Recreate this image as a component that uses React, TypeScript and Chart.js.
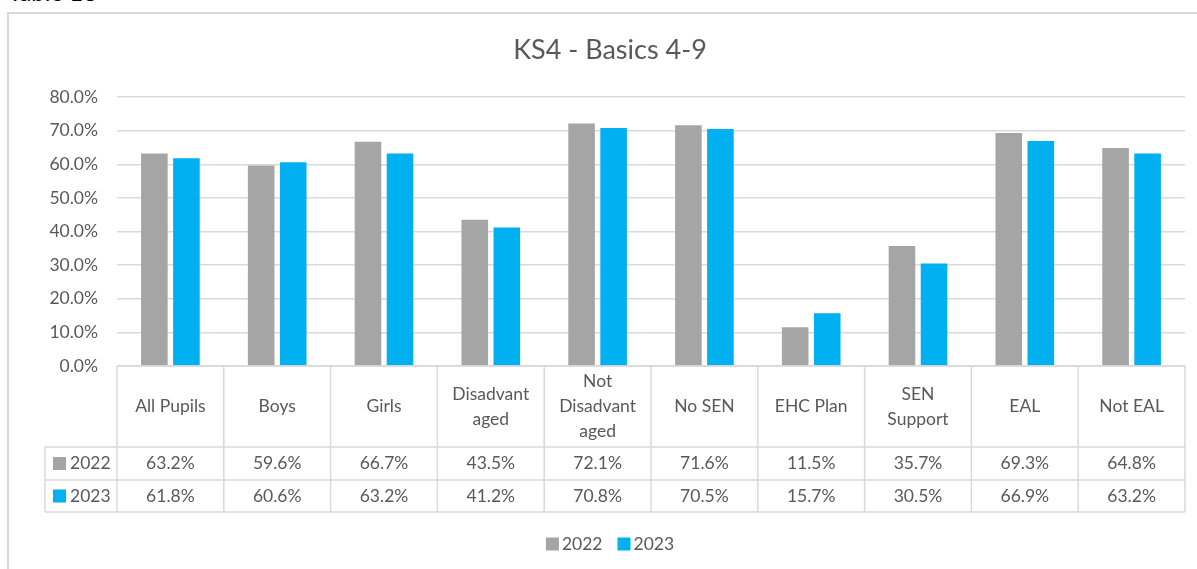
import { useEffect, useRef } from 'react';
import { Chart, registerables } from 'chart.js';

Chart.register(...registerables);

const chartTitle = 'KS4 - Basics 4-9';
const categoryLabels: string[][] = [
  ['All Pupils'],
  ['Boys'],
  ['Girls'],
  ['Disadvant', 'aged'],
  ['Not', 'Disadvant', 'aged'],
  ['No SEN'],
  ['EHC Plan'],
  ['SEN', 'Support'],
  ['EAL'],
  ['Not EAL'],
];
const seriesNames = ['2022', '2023'];
const series2022 = [63.2, 59.6, 66.7, 43.5, 72.1, 71.6, 11.5, 35.7, 69.3, 64.8];
const series2023 = [61.8, 60.6, 63.2, 41.2, 70.8, 70.5, 15.7, 30.5, 66.9, 63.2];
const yMin = 0;
const yMax = 80;
const yStep = 10;

const FONT = 'Lato, Carlito, Calibri, sans-serif';
const TEXT = '#595959';
const LINE = '#D9D9D9';
const COLORS = ['#A5A5A5', '#00B0F0'];
const TABLE_FONT_SIZE = 17.5;

const tablePlugin = {
  id: 'dataTable',
  afterDraw(chart: any) {
    const { ctx, chartArea, scales } = chart;
    const xs = scales.x;
    const n = chart.data.labels.length;
    const left = chartArea.left;
    const right = chartArea.right;
    const colW = (right - left) / n;
    const top = chartArea.bottom;
    const catBottom = top + 81;
    const r1 = catBottom + 33;
    const r2 = r1 + 32;
    const keyLeft = left - 72;

    ctx.save();
    ctx.strokeStyle = LINE;
    ctx.lineWidth = 1.5;
    ctx.beginPath();
    ctx.moveTo(left, top);
    ctx.lineTo(right, top);
    ctx.moveTo(keyLeft, catBottom);
    ctx.lineTo(right, catBottom);
    ctx.moveTo(keyLeft, r1);
    ctx.lineTo(right, r1);
    ctx.moveTo(keyLeft, r2);
    ctx.lineTo(right, r2);
    for (let i = 0; i <= n; i++) {
      const xx = left + i * colW;
      ctx.moveTo(xx, top);
      ctx.lineTo(xx, r2);
    }
    ctx.moveTo(keyLeft, catBottom);
    ctx.lineTo(keyLeft, r2);
    ctx.stroke();

    ctx.font = `${TABLE_FONT_SIZE}px ${FONT}`;
    ctx.textBaseline = 'middle';
    ctx.fillStyle = TEXT;
    ctx.textAlign = 'center';
    const labels = chart.data.labels as string[][];
    labels.forEach((lines, i) => {
      const cx = xs.getPixelForValue(i);
      const cy = (top + catBottom) / 2;
      const lh = 25;
      lines.forEach((line, j) => {
        ctx.fillText(line, cx, cy + (j - (lines.length - 1) / 2) * lh);
      });
    });

    const rows = [
      [catBottom, r1],
      [r1, r2],
    ];
    chart.data.datasets.forEach((ds: any, k: number) => {
      const cy = (rows[k][0] + rows[k][1]) / 2;
      ctx.fillStyle = TEXT;
      ctx.textAlign = 'center';
      ds.data.forEach((v: number, i: number) => {
        ctx.fillText(v.toFixed(1) + '%', xs.getPixelForValue(i), cy);
      });
      ctx.fillStyle = ds.backgroundColor;
      ctx.fillRect(keyLeft + 8, cy - 6.5, 13, 13);
      ctx.fillStyle = TEXT;
      ctx.textAlign = 'left';
      ctx.fillText(ds.label, keyLeft + 25, cy);
    });

    // legend
    const box = 13;
    const gap = 3;
    const spacing = 15;
    const items = chart.data.datasets.map((ds: any) => ({
      label: ds.label,
      color: ds.backgroundColor,
      w: box + gap + ctx.measureText(ds.label).width,
    }));
    const total = items.reduce((s: number, it: any) => s + it.w, 0) + spacing * (items.length - 1);
    let lx = chart.width / 2 - total / 2;
    const ly = 544;
    items.forEach((it: any) => {
      ctx.fillStyle = it.color;
      ctx.fillRect(lx, ly - 6.5, box, box);
      ctx.fillStyle = TEXT;
      ctx.textAlign = 'left';
      ctx.fillText(it.label, lx + box + gap, ly);
      lx += it.w + spacing;
    });
    ctx.restore();
  },
};

export default function App() {
  const ref = useRef<HTMLCanvasElement | null>(null);

  useEffect(() => {
    if (!ref.current) return;
    const chart = new Chart(ref.current, {
      type: 'bar',
      data: {
        labels: categoryLabels,
        datasets: [
          {
            label: seriesNames[0],
            data: series2022,
            backgroundColor: COLORS[0],
            categoryPercentage: 0.6,
            barPercentage: 0.83,
          },
          {
            label: seriesNames[1],
            data: series2023,
            backgroundColor: COLORS[1],
            categoryPercentage: 0.6,
            barPercentage: 0.83,
          },
        ],
      },
      options: {
        responsive: false,
        animation: false,
        devicePixelRatio: 1,
        layout: { padding: { top: 0, left: 0, right: 0, bottom: 203 } },
        plugins: {
          legend: { display: false },
          tooltip: { enabled: false },
          title: {
            display: true,
            text: chartTitle,
            color: TEXT,
            font: { family: FONT, size: 27, weight: 'normal' },
            padding: { top: 33.8, bottom: 30.8 },
          },
        },
        scales: {
          x: { display: false },
          y: {
            min: yMin,
            max: yMax,
            afterFit: (scale: any) => {
              scale.width = 117;
            },
            ticks: {
              stepSize: yStep,
              color: TEXT,
              padding: 19,
              font: { family: FONT, size: TABLE_FONT_SIZE },
              callback: (v: any) => Number(v).toFixed(1) + '%',
            },
            grid: { color: LINE, lineWidth: 1.5, drawTicks: false },
            border: { display: false },
          },
          yRight: {
            type: 'linear',
            position: 'right',
            display: true,
            ticks: { display: false },
            grid: { display: false, drawOnChartArea: false },
            border: { display: false },
            afterFit: (scale: any) => {
              scale.width = 35;
            },
          },
        },
      },
      plugins: [tablePlugin],
    });
    return () => chart.destroy();
  }, []);

  return (
    <div
      style={{
        position: 'fixed',
        left: 0,
        top: 0,
        width: 1197,
        height: 569,
        overflow: 'hidden',
        background: '#fff',
      }}
    >
      <div
        style={{
          position: 'absolute',
          left: 8,
          top: -19,
          fontFamily: FONT,
          fontSize: 24,
          lineHeight: '22px',
          color: '#000',
          whiteSpace: 'nowrap',
        }}
      >
        Table 18
      </div>
      <div
        style={{
          position: 'absolute',
          left: 7,
          top: 12,
          width: 1300,
          height: 700,
          borderLeft: '2px solid #D9D9D9',
          borderTop: '2px solid #D9D9D9',
        }}
      />
      <canvas
        ref={ref}
        width={1220}
        height={569}
        style={{ position: 'absolute', left: 0, top: 0, width: 1220, height: 569 }}
      />
    </div>
  );
}
